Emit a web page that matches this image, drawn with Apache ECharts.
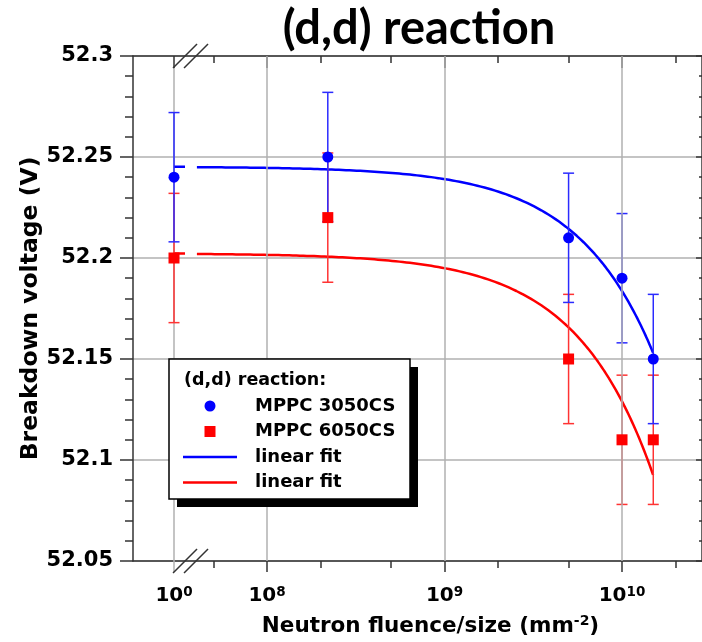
<!DOCTYPE html>
<html>
<head>
<meta charset="utf-8">
<script src="https://cdn.jsdelivr.net/npm/echarts@6/dist/echarts.min.js"></script>
<style>
html,body{margin:0;padding:0;background:#fff;}
#chart{width:702px;height:642px;}
</style>
</head>
<body>
<div id="chart"></div>
<script>
// ---------------- data ----------------
const fluence3050 = [1, 2.2e8, 5e9, 1e10, 1.5e10];
const volt3050    = [52.24, 52.25, 52.21, 52.19, 52.15];
const err3050     = [0.032, 0.032, 0.032, 0.032, 0.032];

const fluence6050 = [1, 2.2e8, 5e9, 1e10, 1.5e10];
const volt6050    = [52.20, 52.22, 52.15, 52.11, 52.11];
const err6050     = [0.032, 0.032, 0.032, 0.032, 0.032];

const xMajorTicks = [1e8, 1e9, 1e10];
const xMinorTicks = [5e7, 2e8, 5e8, 2e9, 5e9, 2e10];
const xLabelValues = [1, 1e8, 1e9, 1e10];
const xLabelExps   = ['0', '8', '9', '10'];
const yTicks = [52.05, 52.1, 52.15, 52.2, 52.25, 52.3];

// ---------------- broken log axis mapping ----------------
const U_BREAK = 7.476;   // axis position used for fluence 10^0 (axis break)
const U_MIN = 7.245, U_MAX = 10.4506;
function xPos(f) { return f <= 1 ? U_BREAK : Math.log10(f); }

// least-squares linear fit  V = a + b * fluence
function linFit(xs, ys) {
  const n = xs.length;
  const mx = xs.reduce((s, v) => s + v, 0) / n;
  const my = ys.reduce((s, v) => s + v, 0) / n;
  let sxy = 0, sxx = 0;
  for (let i = 0; i < n; i++) { sxy += (xs[i] - mx) * (ys[i] - my); sxx += (xs[i] - mx) * (xs[i] - mx); }
  const b = sxy / sxx;
  return { a: my - b * mx, b: b };
}
function fitLine(xs, ys) {
  const p = linFit(xs, ys);
  const fMax = Math.max.apply(null, xs);
  const pts = [[U_BREAK, p.a + p.b * 1], [U_BREAK + 0.062, p.a + p.b * 1], [null, null]];
  for (let u = 7.605; u < Math.log10(fMax); u += 0.01) {
    const f = Math.pow(10, u);
    pts.push([u, p.a + p.b * f]);
  }
  pts.push([Math.log10(fMax), p.a + p.b * fMax]);
  return pts;
}
function errData(fs, vs, es) { return fs.map((f, i) => [xPos(f), vs[i] - es[i], vs[i] + es[i]]); }
function ptData(fs, vs) { return fs.map((f, i) => [xPos(f), vs[i]]); }

const FONT = 'DejaVu Sans';
const AX = '#333';
const GRID = '#b0b0b0';
const BLUE = '#0000ff', RED = '#ff0000';
const SQUARE = 'path://M0,0H10V10H0Z';
const LINEICON = 'path://M0,0H54V2.6H0Z';

function errRender(color) {
  return function (params, api) {
    const x = api.value(0);
    const lo = api.coord([x, api.value(1)]);
    const hi = api.coord([x, api.value(2)]);
    const w = 5.5;
    const st = { stroke: color, lineWidth: 1.5 };
    return {
      type: 'group',
      children: [
        { type: 'line', shape: { x1: lo[0], y1: lo[1], x2: hi[0], y2: hi[1] }, style: st },
        { type: 'line', shape: { x1: lo[0] - w, y1: lo[1], x2: lo[0] + w, y2: lo[1] }, style: st },
        { type: 'line', shape: { x1: hi[0] - w, y1: hi[1], x2: hi[0] + w, y2: hi[1] }, style: st }
      ]
    };
  };
}

// grid line of the 10^0 position (runs between the two break marks)
function breakGridRender(params, api) {
  const t = api.coord([U_BREAK, yTicks[yTicks.length - 1]]);
  const b = api.coord([U_BREAK, yTicks[0]]);
  return { type: 'line', shape: { x1: t[0], y1: t[1] + 12, x2: b[0], y2: b[1] + 11 }, style: { stroke: GRID, lineWidth: 1.5 } };
}
// axis-break slashes and the legend frame
function decorRender(params, api) {
  const t = api.coord([U_BREAK, yTicks[yTicks.length - 1]]);
  const b = api.coord([U_BREAK, yTicks[0]]);
  const st = { stroke: AX, lineWidth: 1.5 };
  const bx = t[0];
  function slashes(ay) {
    return [
      { type: 'line', shape: { x1: bx - 1, y1: ay + 12, x2: bx + 23, y2: ay - 12 }, style: st },
      { type: 'line', shape: { x1: bx + 10, y1: ay + 12, x2: bx + 34, y2: ay - 12 }, style: st }
    ];
  }
  return {
    type: 'group',
    children: slashes(t[1]).concat(slashes(b[1]), [
      { type: 'rect', shape: { x: 177, y: 367, width: 241, height: 140 }, style: { fill: '#000' } },
      { type: 'rect', shape: { x: 169, y: 359, width: 241, height: 140 }, style: { fill: '#fff', stroke: '#000', lineWidth: 1.5 } },
      { type: 'text', style: { text: '(d,d) reaction:', x: 184, y: 380, verticalAlign: 'middle', textVerticalAlign: 'middle', font: 'bold 17.5px "DejaVu Sans"', fill: '#000' } }
    ])
  };
}

const labelRich = {
  b: { fontFamily: FONT, fontWeight: 'bold', fontSize: 20, color: '#000', lineHeight: 21 },
  s: { fontFamily: FONT, fontWeight: 'bold', fontSize: 13.5, color: '#000', lineHeight: 14, verticalAlign: 'top' }
};

const chart = echarts.init(document.getElementById('chart'), null, { renderer: 'canvas' });

const option = {
  animation: false,
  backgroundColor: '#fff',
  title: {
    text: '(d,d) reaction', left: 414, top: 0, textAlign: 'center',
    textStyle: { fontFamily: 'Lato', fontWeight: 'bold', fontSize: 47, color: '#000' }
  },
  grid: { left: 133, right: 0, top: 56, bottom: 79 },
  xAxis: [
    {
      type: 'value', position: 'bottom', min: U_MIN, max: U_MAX,
      axisLine: { show: true, onZero: false, lineStyle: { color: AX, width: 1.5 } },
      axisTick: { show: true, customValues: xMajorTicks.map(xPos), length: 11, lineStyle: { color: AX, width: 1.5 } },
      axisLabel: {
        customValues: xLabelValues.map(xPos), margin: 24,
        formatter: function (v) {
          let best = 0;
          xLabelValues.forEach((f, i) => { if (Math.abs(xPos(f) - v) < Math.abs(xPos(xLabelValues[best]) - v)) best = i; });
          return '{b|10}{s|' + xLabelExps[best] + '}';
        },
        rich: labelRich
      },
      splitLine: { show: false },
      name: '{t|Neutron fluence/size (mm}{s|-2}{t|)}',
      nameLocation: 'middle', nameGap: 53, nameMoveOverlap: false,
      nameTextStyle: {
        padding: [0, 0, 0, 26],
        rich: {
          t: { fontFamily: FONT, fontWeight: 'bold', fontSize: 21.5, color: '#000', lineHeight: 24 },
          s: { fontFamily: FONT, fontWeight: 'bold', fontSize: 14, color: '#000', lineHeight: 14, verticalAlign: 'top' }
        }
      }
    },
    {
      type: 'value', position: 'bottom', min: U_MIN, max: U_MAX,
      axisLine: { show: false, onZero: false },
      axisTick: { show: true, customValues: xMinorTicks.map(xPos), length: 7, lineStyle: { color: AX, width: 1.5 } },
      axisLabel: { show: false }, splitLine: { show: false }
    },
    {
      type: 'value', position: 'top', min: U_MIN, max: U_MAX,
      axisLine: { show: true, onZero: false, lineStyle: { color: AX, width: 1.5 } },
      axisTick: { show: true, inside: true, customValues: [1].concat(xMajorTicks).map(xPos), length: 12, lineStyle: { color: AX, width: 1.5 } },
      axisLabel: { show: false }, splitLine: { show: false }
    },
    {
      type: 'value', position: 'top', min: U_MIN, max: U_MAX,
      axisLine: { show: false, onZero: false },
      axisTick: { show: true, inside: true, customValues: xMinorTicks.map(xPos), length: 7, lineStyle: { color: AX, width: 1.5 } },
      axisLabel: { show: false }, splitLine: { show: false }
    }
  ],
  yAxis: [
    {
      type: 'value', position: 'left', min: yTicks[0], max: yTicks[yTicks.length - 1], interval: 0.05,
      axisLine: { show: true, onZero: false, lineStyle: { color: AX, width: 1.5 } },
      axisTick: { show: true, length: 13, lineStyle: { color: AX, width: 1.5 } },
      minorTick: { show: true, splitNumber: 5, length: 8, lineStyle: { color: AX, width: 1.5 } },
      axisLabel: {
        margin: 20, fontFamily: FONT, fontWeight: 'bold', fontSize: 21, color: '#000',
        formatter: v => String(parseFloat(v.toFixed(2)))
      },
      splitLine: { show: true, lineStyle: { color: GRID, width: 1.5 } },
      name: 'Breakdown voltage (V)', nameLocation: 'middle', nameGap: 90, nameMoveOverlap: false,
      nameTextStyle: { fontFamily: FONT, fontWeight: 'bold', fontSize: 23.5, color: '#000' }
    },
    {
      type: 'value', position: 'right', min: yTicks[0], max: yTicks[yTicks.length - 1], interval: 0.05,
      axisLine: { show: true, onZero: false, lineStyle: { color: AX, width: 1.5 } },
      axisTick: { show: true, inside: true, length: 6, lineStyle: { color: AX, width: 1.5 } },
      minorTick: { show: true, splitNumber: 5, length: 3, lineStyle: { color: AX, width: 1.5 } },
      axisLabel: { show: false }, splitLine: { show: false }
    }
  ],
  legend: {
    orient: 'vertical', left: 183, top: 397, itemGap: 7.5, itemWidth: 54, itemHeight: 11,
    z: 10, padding: 0, selectedMode: false, symbolKeepAspect: true,
    data: [
      { name: 'MPPC 3050CS' },
      { name: 'MPPC 6050CS' },
      { name: 'linear fit', icon: LINEICON },
      { name: 'linear fit ', icon: LINEICON }
    ],
    formatter: n => n.trim(),
    textStyle: { fontFamily: FONT, fontWeight: 'bold', fontSize: 18, color: '#000', padding: [0, 0, 0, 13] }
  },
  series: [
    {
      name: 'grid', type: 'line', data: [], silent: true,
      markLine: {
        silent: true, symbol: 'none', label: { show: false },
        lineStyle: { color: GRID, width: 1.5, type: 'solid' },
        data: xMajorTicks.map(f => ({ xAxis: xPos(f) }))
      }
    },
    {
      name: 'breakGrid', type: 'custom', silent: true, z: 1, clip: false,
      renderItem: breakGridRender, data: [[U_BREAK, yTicks[2]]]
    },
    {
      name: 'linear fit', type: 'line', data: fitLine(fluence3050, volt3050),
      symbol: 'none', showSymbol: false, connectNulls: false,
      lineStyle: { color: BLUE, width: 2.5 }, itemStyle: { color: BLUE }, z: 3
    },
    {
      name: 'linear fit ', type: 'line', data: fitLine(fluence6050, volt6050),
      symbol: 'none', showSymbol: false, connectNulls: false,
      lineStyle: { color: RED, width: 2.5 }, itemStyle: { color: RED }, z: 3
    },
    {
      name: 'err6050', type: 'custom', renderItem: errRender('#ff3333'),
      data: errData(fluence6050, volt6050, err6050), encode: { x: 0, y: [1, 2] }, z: 4
    },
    {
      name: 'err3050', type: 'custom', renderItem: errRender('#2b2bff'),
      data: errData(fluence3050, volt3050, err3050), encode: { x: 0, y: [1, 2] }, z: 4
    },
    {
      name: 'MPPC 6050CS', type: 'scatter', data: ptData(fluence6050, volt6050),
      symbol: SQUARE, symbolSize: 11, symbolKeepAspect: true, itemStyle: { color: RED, opacity: 1 }, z: 5
    },
    {
      name: 'MPPC 3050CS', type: 'scatter', data: ptData(fluence3050, volt3050),
      symbol: 'circle', symbolSize: 11, itemStyle: { color: BLUE, opacity: 1 }, z: 5
    },
    {
      name: 'decor', type: 'custom', silent: true, z: 8, clip: false,
      renderItem: decorRender, data: [[U_BREAK, yTicks[2]]]
    }
  ]
};
chart.setOption(option);
</script>
</body>
</html>
